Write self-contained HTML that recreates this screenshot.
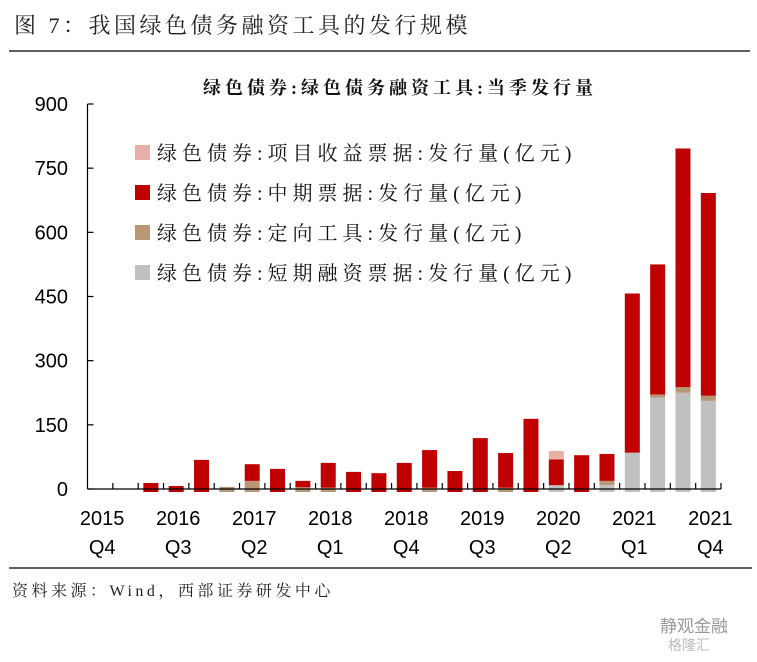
<!DOCTYPE html>
<html><head><meta charset="utf-8">
<style>
body{margin:0;background:#fff;}
svg text{font-family:"Liberation Sans","Noto Sans CJK SC",sans-serif;}
svg text.serif{font-family:"Liberation Serif","Noto Serif CJK SC",serif;}
</style></head>
<body>
<svg id="chart" width="757" height="657" viewBox="0 0 757 657" xmlns="http://www.w3.org/2000/svg">
<text class="serif" x="14" y="33" font-size="22" letter-spacing="3.5" fill="#222">图 7：我国绿色债务融资工具的发行规模</text>
<line x1="9" y1="51" x2="750" y2="51" stroke="#000" stroke-width="1.2"/>
<text class="serif" x="400" y="94" font-size="18" font-weight="bold" letter-spacing="4" text-anchor="middle" fill="#111">绿色债券:绿色债务融资工具:当季发行量</text>
<g id="yaxis"></g>
<g id="bars"></g>
<g id="xaxis"></g>
<g id="legend"></g>
<line x1="9" y1="568" x2="752" y2="568" stroke="#000" stroke-width="1.2"/>
<text class="serif" x="12" y="596" font-size="16" letter-spacing="3.5" fill="#222">资料来源：Wind，西部证券研发中心</text>
<text x="660" y="632" font-size="17" fill="#999">静观金融</text>
<text x="668" y="650" font-size="14" fill="#bbb">格隆汇</text>
</svg>
<script>
const categories=["2015Q4","2016Q1","2016Q2","2016Q3","2016Q4","2017Q1","2017Q2","2017Q3","2017Q4","2018Q1","2018Q2","2018Q3","2018Q4","2019Q1","2019Q2","2019Q3","2019Q4","2020Q1","2020Q2","2020Q3","2020Q4","2021Q1","2021Q2","2021Q3","2021Q4"];
const shortTerm=[0,0,0,0,0,0,0,0,0,0,0,0,0,0,0,0,0,0,9,0,9,85,214,225,206];
const directional=[0,0,0,0,0,5,19,0,4,3,0,0,0,3,0,0,3,0,0,0,10,0,7,13,12];
const mtn=[0,0,14,7,68,0,39,47,15,58,40,37,61,88,42,119,81,164,60,79,63,372,304,558,474];
const projectRev=[0,0,0,0,0,0,0,0,0,0,0,0,0,0,0,0,0,0,20,0,0,0,0,0,0];
const yTicks=[0,150,300,450,600,750,900];
const xLabelIdx=[0,3,6,9,12,15,18,21,24];
const seriesNames=["绿色债券:项目收益票据:发行量(亿元)","绿色债券:中期票据:发行量(亿元)","绿色债券:定向工具:发行量(亿元)","绿色债券:短期融资票据:发行量(亿元)"];
const NS="http://www.w3.org/2000/svg";
const x0=87.5,x1=721,y0=489,yTop=104,vmax=900;
const bw=(x1-x0)/categories.length;
const yS=v=>y0-(v/vmax)*(y0-yTop);
const xC=i=>x0+bw*(i+0.5);
function mk(tag,attrs,parent){const e=document.createElementNS(NS,tag);for(const k in attrs)e.setAttribute(k,attrs[k]);parent.appendChild(e);return e;}
const yg=document.getElementById('yaxis'),bg=document.getElementById('bars'),xg=document.getElementById('xaxis'),lg=document.getElementById('legend');
let l=mk('line',{x1:x0,y1:yTop,x2:x0,y2:y0,stroke:'#000','stroke-width':1.2},yg);


yTicks.forEach(v=>{
 const t=mk('line',{x1:x0,y1:yS(v),x2:x0+6,y2:yS(v),stroke:'#000','stroke-width':1.2},yg);
 
 
 const tx=mk('text',{x:68,y:yS(v)+7,'font-size':20,'text-anchor':'end',fill:'#000'},yg);
 tx.textContent=v;
 
 
});
const colors=['#c0c0c0','#b89874','#c00000','#e6b0a6'];
const stacks=[shortTerm,directional,mtn,projectRev];
const bwid=15;
categories.forEach((c,i)=>{
 let acc=0;
 stacks.forEach((s,k)=>{
  const v=s[i]; if(!v) return;
  const r=mk('rect',{x:xC(i)-bwid/2,y:yS(acc+v),width:bwid,height:yS(acc)-yS(acc+v)+(acc===0?3:0),fill:colors[k]},bg);
  
  
  acc+=v;
 });
});
let xl=mk('line',{x1:x0,y1:y0,x2:x1,y2:y0,stroke:'#000','stroke-width':1.2},xg);


for(let k=1;k<=categories.length;k++){
 const t=mk('line',{x1:x0+bw*k,y1:y0,x2:x0+bw*k,y2:y0-6,stroke:'#000','stroke-width':1.2},xg);
 
 
}
xLabelIdx.forEach(i=>{
 const c=categories[i];
 const a=mk('text',{x:xC(i)+2,y:525,'font-size':20,'text-anchor':'middle',fill:'#000'},xg);
 a.textContent=c.slice(0,4);
 
 
 const b=mk('text',{x:xC(i)+2,y:554,'font-size':20,'text-anchor':'middle',fill:'#000'},xg);
 b.textContent=c.slice(4);
 
 
});
const legColors=['#e6b0a6','#c00000','#b89874','#c0c0c0'];
seriesNames.forEach((n,k)=>{
 const yy=153+k*40;
 const r=mk('rect',{x:135,y:yy-8,width:15,height:15,fill:legColors[k]},lg);
 
 
 const t=mk('text',{x:157,y:yy+7,'font-size':20,'letter-spacing':5,fill:'#111','class':'serif'},lg);
 t.textContent=n;
 
 
});
</script>
</body></html>
